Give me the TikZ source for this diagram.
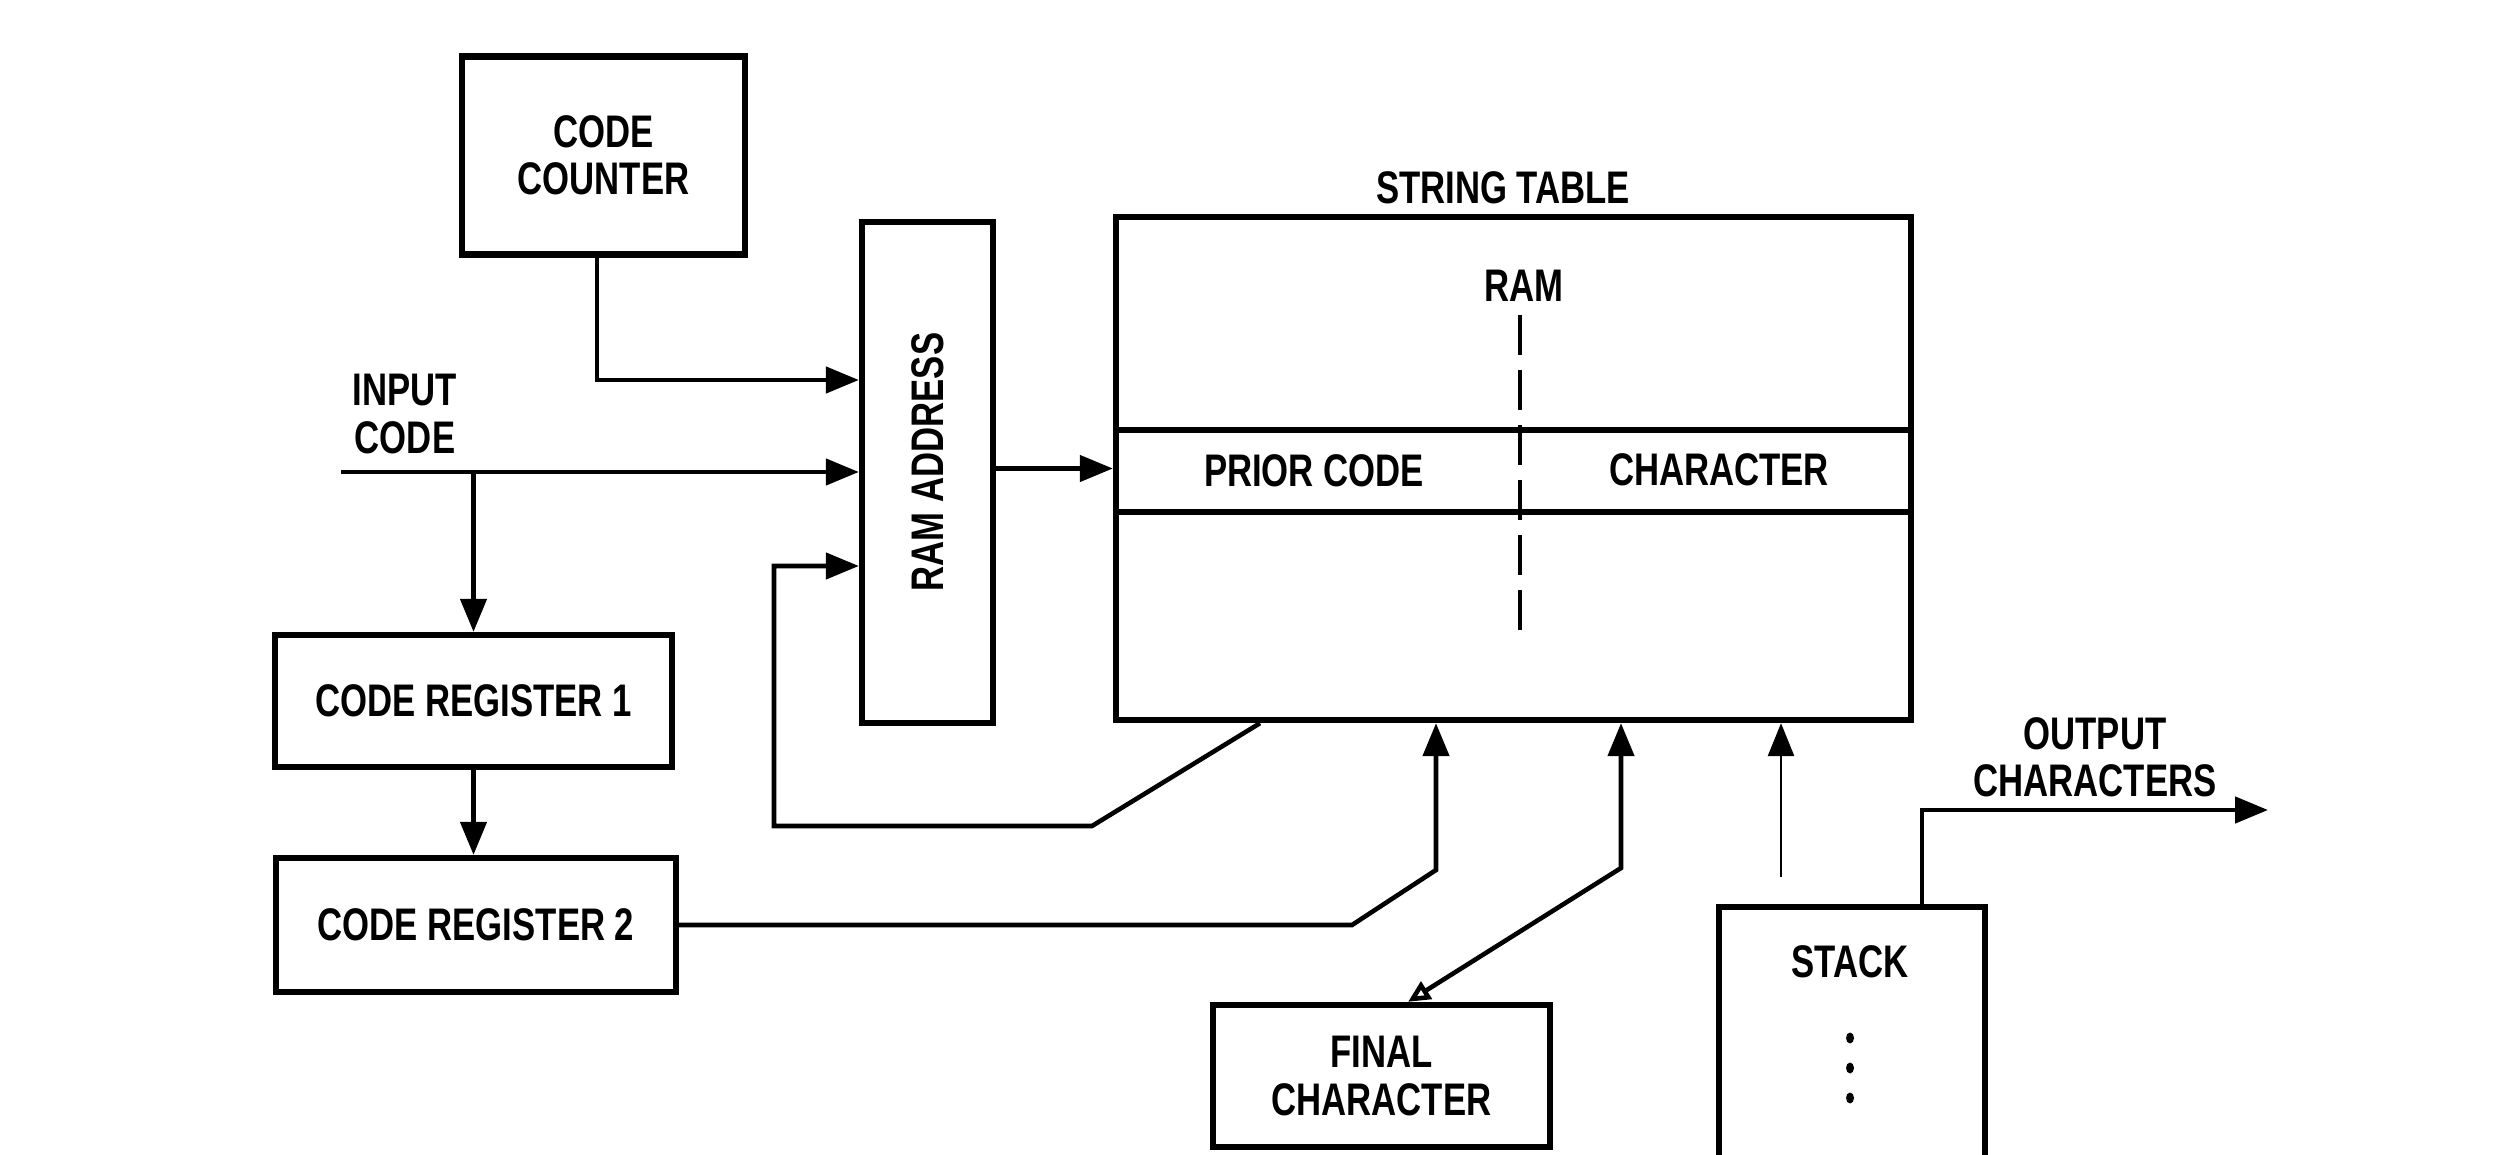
\documentclass[tikz,border=0pt]{standalone}
\usepackage{fontspec}
\newfontfamily\blockfont{Liberation Sans}[FakeStretch=0.76]
\usepackage{tikz}
\usetikzlibrary{arrows.meta}

\begin{document}
\begin{tikzpicture}[>={Triangle[length=3.3mm,width=2.6mm]},
        font={\blockfont\bfseries\fontsize{13}{13.5}\selectfont},
        block/.style={draw, line width=1.8pt, align=center, inner sep=0pt},
        conn/.style={line width=1.3pt}]
        \useasboundingbox (0,0) rectangle (25.18,11.54);

        % Counter and address blocks
        \node[block, minimum width=2.83cm, minimum height=1.98cm] (cc) at (6.035, 9.985) {CODE\\COUNTER};
        \node[block, minimum width=1.31cm, minimum height=5.01cm] (ramaddr) at (9.275, 6.815) {};
        \node[rotate=90] (addrlbl) at (9.28, 6.92) {RAM ADDRESS};

        % String table (RAM)
        \node[block, minimum width=7.95cm, minimum height=5.03cm] (strtab) at (15.135, 6.855) {};
        \node (sttitle) at (15.03, 9.66) {STRING TABLE};
        \node (ramlbl) at (15.24, 8.68) {RAM};
        \draw[line width=1.8pt] (strtab.west |- 0,7.24) -- (strtab.east |- 0,7.24);
        \draw[line width=1.8pt] (strtab.west |- 0,6.42) -- (strtab.east |- 0,6.42);
        \draw[line width=1.2pt, dash pattern=on 4mm off 1.5mm] (15.20, 8.39) -- (15.20, 5.23);
        \node (prior) at (13.14, 6.83) {PRIOR CODE};
        \node (charlbl) at (17.19, 6.84) {CHARACTER};

        % Code registers
        \node[block, minimum width=3.97cm, minimum height=1.32cm] (cr1) at (4.735, 4.53) {CODE REGISTER 1};
        \node[block, minimum width=4.0cm, minimum height=1.34cm] (cr2) at (4.76, 2.29) {CODE REGISTER 2};

        % Final character and stack
        \node[block, minimum width=3.37cm, minimum height=1.42cm] (finchar) at (13.815, 0.78) {FINAL\\CHARACTER};
        \node[minimum width=2.64cm, minimum height=2.46cm, inner sep=0pt] (stack) at (18.52, 1.23) {};
        \draw[line width=1.8pt] (stack.south west) -- (stack.north west) -- (stack.north east) -- (stack.south east);
        \node (stacklbl) at (18.50, 1.92) {STACK};
        \foreach \y in {1.16, 0.86, 0.56}
            \fill (18.50, \y) ellipse (0.4mm and 0.55mm);

        % Outside labels
        \node[align=center] (inlbl) at (4.05, 7.40) {INPUT\\CODE};
        \node[align=center] (outlbl) at (20.95, 3.97) {OUTPUT\\CHARACTERS};

        % Input code into address and register 1
        \coordinate (incode) at (3.41, 6.82);
        \draw[conn, ->] (incode) -- (incode -| ramaddr.west);
        \draw[conn, ->] (cr1.north |- incode) -- (cr1.north);
        \draw[conn, ->] (cr1.south) -- (cr1.south |- cr2.north);
        \draw[conn, ->] ([xshift=-0.65mm]cc.south) |- ([yshift=9.25mm]ramaddr.west);
        \draw[conn, ->] (ramaddr.east |- strtab.west) -- (strtab.west);

        % Prior code fed back to the address
        \coordinate (fbk) at (10.92, 3.28);
        \draw[conn, ->] ([xshift=-25.35mm]strtab.south) -- (fbk) -- ++(-3.18,0) |- ([yshift=-9.35mm]ramaddr.west);

        % Code register 2 into the table
        \coordinate (cr2bend) at (13.52, 2.29);
        \coordinate (cr2up) at (14.36, 2.84);
        \draw[conn, ->] (cr2.east) -- (cr2bend) -- (cr2up) -- (cr2up |- strtab.south);

        % Final character, both ways
        \coordinate (fcbend) at (16.21, 2.86);
        \draw[conn, {Triangle[open, length=2.2mm, width=2mm]}->] ([xshift=2.65mm]finchar.north) -- (fcbend) -- (fcbend |- strtab.south);

        % Stack
        \coordinate (stkin) at (17.81, 2.77);
        \draw[line width=0.8pt, ->] (stkin) -- (stkin |- strtab.south);
        \coordinate (outc) at (22.68, 3.44);
        \draw[conn, ->] ([xshift=7mm]stack.north) |- (outc);
\end{tikzpicture}
\end{document}
